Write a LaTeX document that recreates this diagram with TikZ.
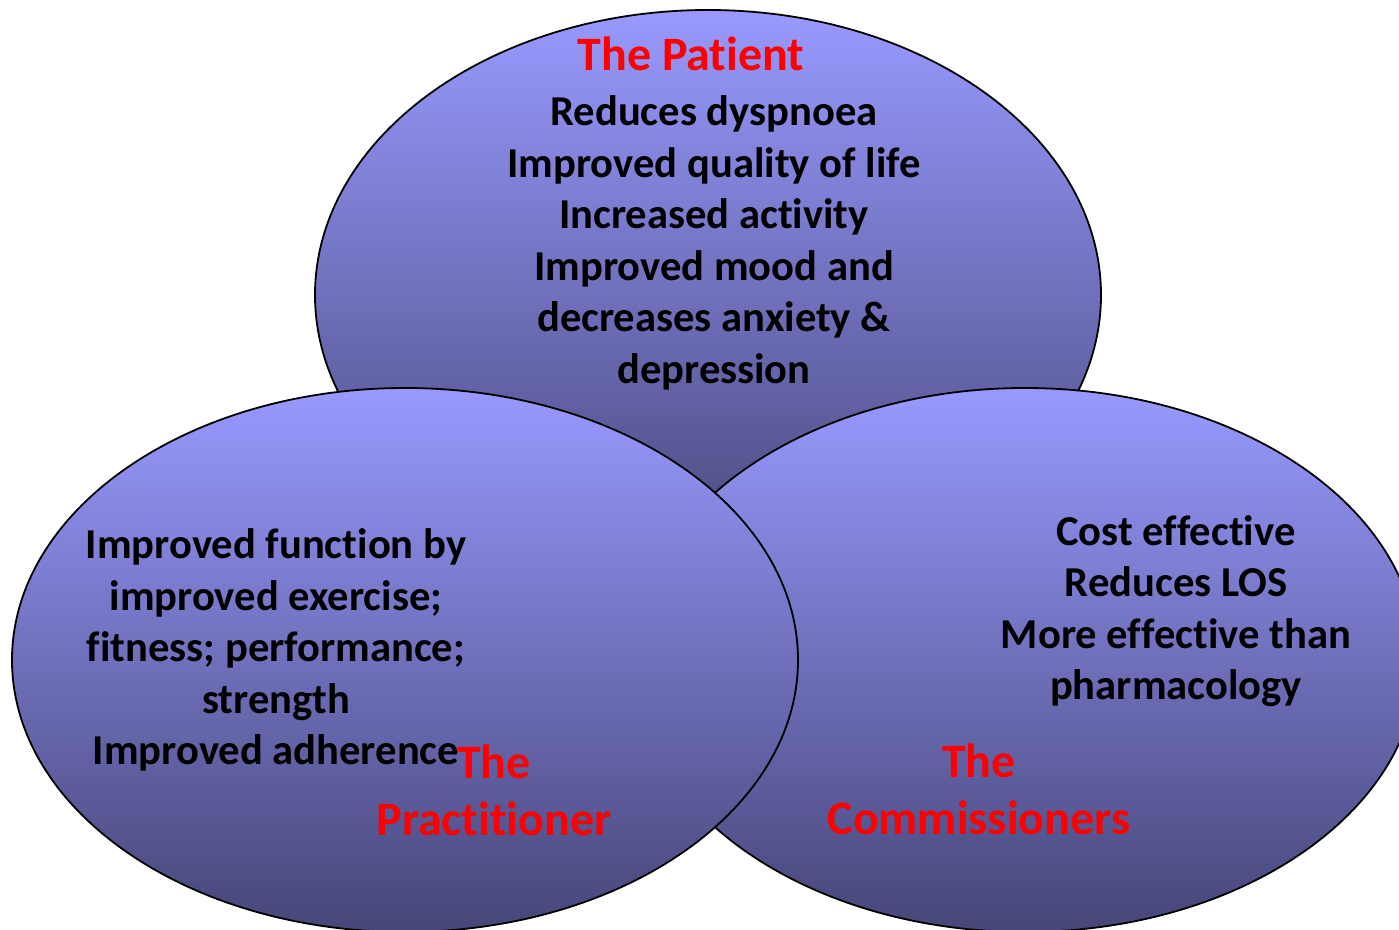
\documentclass[tikz,border=0pt]{standalone}
\usepackage{fontspec}
\setmainfont{Carlito}[Ligatures=NoCommon]
\usepackage{tikz}

\definecolor{lavtop}{RGB}{153,153,255}
\definecolor{lavbot}{RGB}{70,70,120}

\tikzset{
  blob/.style={draw=black, line width=0.9pt, top color=lavtop, bottom color=lavbot},
  point/.style={align=center, inner sep=0pt, font=\bfseries\fontsize{21.3}{25.75}\selectfont},
  who/.style={align=center, inner sep=0pt, text=red, font=\bfseries\fontsize{24}{28.5}\selectfont}
}

\begin{document}
\begin{tikzpicture}[x=0.5pt,y=-0.5pt]
  \useasboundingbox (0,0) rectangle (1399,930);

  % the three groups
  \path[blob] (708,295) ellipse [x radius=393, y radius=285];
  \path[blob] (1025,660) ellipse [x radius=393, y radius=272];
  \path[blob] (405,660) ellipse [x radius=393, y radius=272];

  % patient
  \node[who] (patienthead) at (691,54) {The Patient};
  \node[point] (patienttext) at (714,243) {Reduces dyspnoea\\ Improved quality of life\\ Increased activity\\
    Improved mood and\\ decreases anxiety \&\\ depression};

  % practitioner
  \node[point] (practtext) at (276,650) {Improved function by\\ improved exercise;\\ fitness; performance;\\
    strength\\ Improved adherence};
  \node[who] (practhead) at (494,790) {The\\ Practitioner};

  % commissioners
  \node[point] (commtext) at (1176,611) {Cost effective\\ Reduces LOS\\ More effective than\\ pharmacology};
  \node[who] (commhead) at (979,789) {The\\ Commissioners};
\end{tikzpicture}
\end{document}
